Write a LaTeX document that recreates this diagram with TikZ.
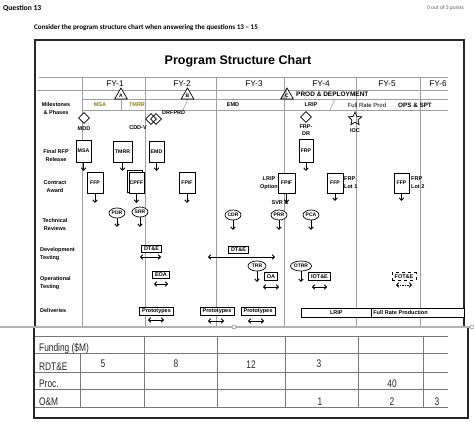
\documentclass[tikz,border=0pt]{standalone}
\usepackage{fontspec}
\setmainfont{Liberation Sans}
\newfontfamily\carl{Carlito}
\usetikzlibrary{arrows.meta,shapes.geometric}
\definecolor{olive2}{RGB}{140,130,30}
\definecolor{gridc}{RGB}{160,160,160}
\definecolor{tabc}{RGB}{120,120,120}
\begin{document}
\begin{tikzpicture}[x=1pt,y=-1pt,
  grid/.style={draw=gridc, line width=0.6pt},
  frame/.style={draw=black!85, line width=1.3pt},
  tline/.style={draw=tabc, line width=0.7pt},
  bx/.style={draw, fill=white, line width=0.7pt, inner sep=0pt, font=\bfseries\fontsize{5.2}{6}\selectfont},
  sbx/.style={draw, fill=white, line width=0.6pt, inner xsep=2.5pt, inner ysep=1pt, minimum height=7.5pt, font=\bfseries\fontsize{5.5}{6}\selectfont},
  ell/.style={ellipse, draw, fill=white, line width=0.7pt, inner sep=0pt, minimum width=16pt, minimum height=10pt, font=\bfseries\fontsize{5}{6}\selectfont},
  dia/.style={diamond, draw, fill=white, line width=0.8pt, inner sep=0pt, minimum size=11pt},
  tri/.style={regular polygon, regular polygon sides=3, draw, fill=white, line width=0.7pt, inner sep=0pt, minimum size=14.6pt, font=\bfseries\fontsize{5}{5}\selectfont},
  txt/.style={inner sep=0pt, font=\bfseries\fontsize{5.5}{6.5}\selectfont},
  rowl/.style={inner sep=0pt, align=center, font=\bfseries\fontsize{5.5}{8}\selectfont},
  fyl/.style={inner sep=0pt, font=\fontsize{8.3}{9}\selectfont},
  tabt/.style={inner sep=0pt, transform shape, xscale=0.76, font=\fontsize{11}{12}\selectfont, text=black!85},
  darr/.style={-{Straight Barb[length=2.5pt,width=4.5pt]}, line width=0.9pt},
  dbl/.style={{Straight Barb[length=2.2pt,width=4.5pt]}-{Straight Barb[length=2.2pt,width=4.5pt]}, line width=0.9pt}
]
\useasboundingbox (0,0) rectangle (474,421);
\fill[white] (0,0) rectangle (474,421);

% header texts
\node[anchor=west, inner sep=0, font=\carl\bfseries\fontsize{7.6}{8}\selectfont] (q) at (3,8) {Question 13};
\node[anchor=east, inner sep=0, text=black!65, font=\carl\fontsize{5.5}{6}\selectfont] (pts) at (464,8) {0 out of 3 points};
\node[anchor=west, inner sep=0, font=\carl\bfseries\fontsize{7.1}{8}\selectfont] (cons) at (34,28) {Consider the program structure chart when answering the questions 13 – 15};

% chart frame and title
\draw[frame] (35,327) -- (35,40) -- (464,40) -- (464,327);
\node[inner sep=0, font=\bfseries\fontsize{12.5}{14}\selectfont] (title) at (238,61) {Program Structure Chart};

% grid
\draw[grid] (39,77) -- (448,77);
\draw[grid] (37,90) -- (448,90);
\draw[grid] (82,99) -- (448,99);
\draw[grid] (82,110) -- (448,110);
\draw[grid] (121,99) -- (121,110);
\foreach \x in {82,145,216,284,356,420} \draw[grid] (\x,77) -- (\x,326);
\draw[grid] (188,99) -- (183,110);
\draw[grid] (335,99) -- (330,110);

% FY labels
\node[fyl] (fy1) at (115,83.5) {FY-1};
\node[fyl] (fy2) at (182,83.5) {FY-2};
\node[fyl] (fy3) at (254,83.5) {FY-3};
\node[fyl] (fy4) at (321,83.5) {FY-4};
\node[fyl] (fy5) at (387,83.5) {FY-5};
\node[fyl] (fy6) at (438,83.5) {FY-6};

% phases row
\node[txt, anchor=west, font=\bfseries\fontsize{6.5}{7}\selectfont] (pd) at (296,94.5) {PROD \& DEPLOYMENT};
\node[txt, text=olive2] (ph1) at (100,105) {MSA};
\node[txt, text=olive2] (ph2) at (137,105) {TMRR};
\node[txt] (ph3) at (233,105) {EMD};
\node[txt] (ph4) at (311,105) {LRIP};
\node[inner sep=0, font=\fontsize{6}{7}\selectfont] (ph5) at (367,105) {Full Rate Prod};
\node[txt, font=\bfseries\fontsize{6.3}{7}\selectfont] (ph6) at (415,105) {OPS \& SPT};

% milestones
\node[tri] (ta) at (121,95.3) {A};
\node[tri] (tb) at (187.5,95.3) {B};
\node[tri, path picture={\fill[gray!55] (path picture bounding box.north west) rectangle (path picture bounding box.south);}] (tc) at (287,95.3) {C};
\node[dia] (mdd) at (84,118) {};
\node[txt] (mddl) at (84,129) {MDD};
\node[dia] (cdd1) at (151,119) {};
\node[dia, fill=none] (cdd2) at (156,119) {};
\node[txt] (cddl) at (138,128) {CDD-V};
\node[txt, anchor=west] (drfp) at (162,113) {DRFPRD};
\node[dia] (frpdr) at (306,117) {};
\node[txt, align=center] (frpdrl) at (306,130) {FRP-\\DR};
\node[star, star points=5, star point ratio=2.2, draw, line width=0.7pt, minimum size=14pt, inner sep=0pt] (ioc) at (355,119) {};
\node[txt] (iocl) at (355,131) {IOC};

% row labels
\node[rowl] (lms) at (56,109) {Milestones\\\& Phases};
\node[rowl] (lfr) at (56,155.5) {Final RFP\\Release};
\node[rowl] (lca) at (55,187) {Contract\\Award};
\node[rowl] (ltr) at (55,225) {Technical\\Reviews};
\node[rowl, anchor=west, align=left] (ldt) at (40,254.5) {Development\\Testing};
\node[rowl, anchor=west, align=left] (lot) at (40,283.5) {Operational\\Testing};
\node[rowl, anchor=west, align=left] (ldl) at (40,311) {Deliveries};

% final RFP release
\node[bx, minimum width=15pt, minimum height=22pt] (rmsa) at (83.5,151) {MSA};
\node[bx, minimum width=19pt, minimum height=21pt] (rtmrr) at (122.5,151.5) {TMRR};
\node[bx, minimum width=15pt, minimum height=21pt] (remd) at (156.5,151.5) {EMD};
\node[bx, minimum width=14pt, minimum height=23pt] (rfrp) at (306,150.5) {FRP};
\coordinate (e1) at (83.5,171);
\coordinate (e2) at (122.5,171);
\coordinate (e3) at (156.5,171);
\coordinate (e4) at (306,171);
\draw[darr] (rmsa) -- (e1);
\draw[darr] (rtmrr) -- (e2);
\draw[darr] (remd) -- (e3);
\draw[darr] (rfrp) -- (e4);

% contract award
\node[bx, minimum width=16pt, minimum height=21pt] (cffp1) at (95,182.5) {FFP};
\node[bx, minimum width=15pt, minimum height=22pt] (cpffb) at (134.5,181) {};
\node[bx, minimum width=15pt, minimum height=21pt] (cpff) at (136.5,182.5) {CPFF};
\node[bx, minimum width=16pt, minimum height=21pt] (fpif1) at (187,182.5) {FPIF};
\node[bx, minimum width=17pt, minimum height=20pt] (fpif2) at (286.5,183) {FPIF};
\node[bx, minimum width=16pt, minimum height=20pt] (ffp2) at (335,183) {FFP};
\node[bx, minimum width=15pt, minimum height=20pt] (ffp3) at (401.5,183) {FFP};
\node[txt, align=center, anchor=east, font=\bfseries\fontsize{5.5}{8}\selectfont] (lripo) at (278,183) {LRIP\\Option};
\node[txt, align=left, anchor=west, font=\bfseries\fontsize{5.5}{8}\selectfont] (lot1) at (344,182.5) {FRP\\Lot 1};
\node[txt, align=left, anchor=west, font=\bfseries\fontsize{5.5}{8}\selectfont] (lot2) at (411,182.5) {FRP\\Lot 2};
\node[txt] (svr) at (280,203) {SVR \&};
\coordinate (c1) at (95,203);
\coordinate (c2) at (136.5,203);
\coordinate (c3) at (187,203);
\coordinate (c4) at (286.5,203);
\coordinate (c5) at (335,201);
\coordinate (c6) at (401.5,201);
\draw[darr] (cffp1) -- (c1);
\draw[darr] (cpff) -- (c2);
\draw[darr] (fpif1) -- (c3);
\draw[darr] (fpif2) -- (c4);
\draw[darr] (ffp2) -- (c5);
\draw[darr] (ffp3) -- (c6);

% technical reviews
\node[ell] (pdr) at (117,213) {PDR};
\node[ell] (srr) at (140,212) {SRR};
\node[ell] (cdr) at (233,215) {CDR};
\node[ell] (prr) at (279,215) {PRR};
\node[ell] (pca) at (311,215) {PCA};
\coordinate (t1) at (117,227);
\coordinate (t2) at (140,227);
\coordinate (t3) at (233,230);
\coordinate (t4) at (279,230);
\coordinate (t5) at (311,230);
\draw[darr] (pdr) -- (t1);
\draw[darr] (srr) -- (t2);
\draw[darr] (cdr) -- (t3);
\draw[darr] (prr) -- (t4);
\draw[darr] (pca) -- (t5);

% development / operational testing
\node[sbx] (dte1) at (151.5,249) {DT\&E};
\coordinate (d1a) at (140,257); \coordinate (d1b) at (161,257);
\draw[dbl] (d1a) -- (d1b);
\node[sbx] (eoa) at (161,275) {EOA};
\coordinate (d2a) at (154,284); \coordinate (d2b) at (168,284);
\draw[dbl] (d2a) -- (d2b);
\node[sbx] (dte2) at (238.5,250) {DT\&E};
\coordinate (d3a) at (208,257); \coordinate (d3b) at (275,257);
\draw[dbl] (d3a) -- (d3b);
\node[ell, minimum width=18pt] (trr) at (257,266) {TRR};
\coordinate (trre) at (257,282);
\draw[darr] (trr) -- (trre);
\node[sbx] (oa) at (271,276.5) {OA};
\coordinate (d4a) at (263,287); \coordinate (d4b) at (279,287);
\draw[dbl] (d4a) -- (d4b);
\node[ell, minimum width=21pt] (otrr) at (301,266) {OTRR};
\coordinate (otrre) at (301,282);
\draw[darr] (otrr) -- (otrre);
\node[sbx] (iote) at (319.5,276.5) {IOT\&E};
\coordinate (d5a) at (312,287); \coordinate (d5b) at (327,287);
\draw[dbl] (d5a) -- (d5b);
\node[sbx, dashed] (fote) at (404,276.5) {FOT\&E};
\coordinate (d6a) at (396,285); \coordinate (d6b) at (412,285);
\draw[dbl, dashed, dash pattern=on 1.5pt off 1pt] (d6a) -- (d6b);

% deliveries
\node[sbx] (pr1) at (156.5,311.5) {Prototypes};
\node[sbx] (pr2) at (217,311.5) {Prototypes};
\node[sbx] (pr3) at (258,311.5) {Prototypes};
\coordinate (p1a) at (148,320); \coordinate (p1b) at (164,320);
\coordinate (p2a) at (208,321); \coordinate (p2b) at (224,321);
\coordinate (p3a) at (248,321); \coordinate (p3b) at (264,321);
\draw[dbl] (p1a) -- (p1b);
\draw[dbl] (p2a) -- (p2b);
\draw[dbl] (p3a) -- (p3b);
\node[draw, fill=white, line width=0.6pt, anchor=north west, minimum width=70pt, minimum height=9pt, inner sep=0pt, font=\bfseries\fontsize{5.5}{6}\selectfont] (lripb) at (301,308) {LRIP};
\node[draw, fill=white, line width=0.6pt, anchor=north west, minimum height=9pt, inner xsep=2pt, inner ysep=0pt, text width=89pt, align=left, font=\bfseries\fontsize{5.5}{6}\selectfont] (frpb) at (371,308) {Full Rate Production};

% separator with handles
\draw[draw=black!30, line width=1.4pt] (0,326.8) -- (474,326.8);
\node[circle, draw=black!50, fill=white, line width=0.5pt, minimum size=4pt, inner sep=0pt] (h1) at (234,327) {};
\node[circle, draw=black!50, fill=white, line width=0.5pt, minimum size=4pt, inner sep=0pt] (h2) at (472,327) {};

% funding table
\draw[frame] (34,327.5) -- (34,418) -- (468,418) -- (468,327.5);
\foreach \y in {336,353,372,389,407} \draw[tline] (35,\y) -- (448,\y);
\draw[tline] (80,353) -- (80,407);
\foreach \x in {144,217,285,358,423} \draw[tline] (\x,336) -- (\x,407);
\node[tabt, anchor=base west] (fund) at (39,351.5) {Funding (\$M)};
\node[tabt, anchor=base west] (rdte) at (39,370.5) {RDT\&E};
\node[tabt, anchor=base west] (proc) at (39,387.5) {Proc.};
\node[tabt, anchor=base west] (om) at (39,405.5) {O\&M};
\node[tabt, anchor=base] (n1) at (103,367.5) {5};
\node[tabt, anchor=base] (n2) at (176,367.5) {8};
\node[tabt, anchor=base] (n3) at (251,368) {12};
\node[tabt, anchor=base] (n4) at (319,367) {3};
\node[tabt, anchor=base] (n5) at (392,387) {40};
\node[tabt, anchor=base] (n6) at (320,405) {1};
\node[tabt, anchor=base] (n7) at (392,405) {2};
\node[tabt, anchor=base] (n8) at (437,405) {3};
\end{tikzpicture}
\end{document}
